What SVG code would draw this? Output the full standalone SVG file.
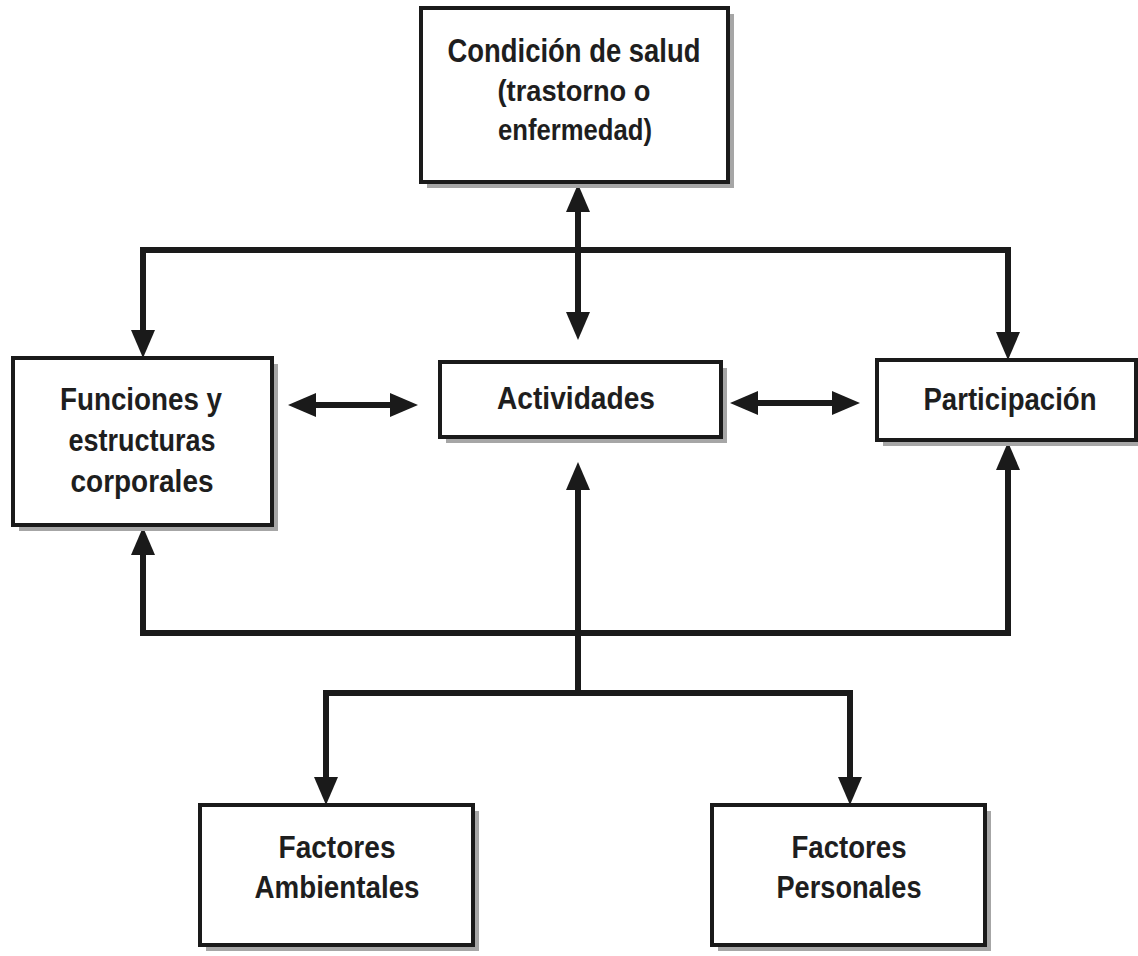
<svg xmlns="http://www.w3.org/2000/svg" width="1138" height="956" viewBox="0 0 1138 956">
<style>
.box{fill:#fff;stroke:#1a1a1a;stroke-width:4}
.sh{fill:#a6a6a6}
.t{font-family:"Liberation Sans",Arial,sans-serif;font-weight:bold;fill:#1e1e1e;text-anchor:middle}
.c{fill:none;stroke:#1a1a1a;stroke-width:6;stroke-linejoin:miter}
</style>
<defs>
<marker id="ah" markerUnits="userSpaceOnUse" viewBox="0 0 28 24" refX="20" refY="12" markerWidth="28" markerHeight="24" orient="auto-start-reverse">
<path d="M0,0 L28,12 L0,24 z" fill="#1a1a1a"/>
</marker>
</defs>
<rect width="1138" height="956" fill="#fff"/>
<g id="connectors">
<path class="c" d="M578,192 V332" marker-start="url(#ah)" marker-end="url(#ah)"/>
<path class="c" d="M143,350 V250 H1008 V352" marker-start="url(#ah)" marker-end="url(#ah)"/>
<path class="c" d="M296,405 H410" marker-start="url(#ah)" marker-end="url(#ah)"/>
<path class="c" d="M738,403 H852" marker-start="url(#ah)" marker-end="url(#ah)"/>
<path class="c" d="M143,535 V633 H1008 V450" marker-start="url(#ah)" marker-end="url(#ah)"/>
<path class="c" d="M578,693 V470" marker-end="url(#ah)"/>
<path class="c" d="M326,797 V693 H850 V797" marker-start="url(#ah)" marker-end="url(#ah)"/>
</g>
<g id="condicion">
<rect class="sh" x="427" y="14" width="307" height="174"/>
<rect class="box" x="421" y="8" width="307" height="174"/>
<text class="t" x="574" y="62" font-size="34" textLength="253" lengthAdjust="spacingAndGlyphs">Condición de salud</text>
<text class="t" x="574" y="101" font-size="29" textLength="153" lengthAdjust="spacingAndGlyphs">(trastorno o</text>
<text class="t" x="575" y="140" font-size="29" textLength="154" lengthAdjust="spacingAndGlyphs">enfermedad)</text>
</g>
<g id="funciones">
<rect class="sh" x="19" y="364" width="259" height="167"/>
<rect class="box" x="13" y="358" width="259" height="167"/>
<text class="t" x="141" y="410" font-size="32" textLength="162" lengthAdjust="spacingAndGlyphs">Funciones y</text>
<text class="t" x="142" y="451" font-size="32" textLength="147" lengthAdjust="spacingAndGlyphs">estructuras</text>
<text class="t" x="142" y="492" font-size="32" textLength="143" lengthAdjust="spacingAndGlyphs">corporales</text>
</g>
<g id="actividades">
<rect class="sh" x="446" y="368" width="281" height="75"/>
<rect class="box" x="440" y="362" width="281" height="75"/>
<text class="t" x="576" y="409" font-size="32" textLength="158" lengthAdjust="spacingAndGlyphs">Actividades</text>
</g>
<g id="participacion">
<rect class="sh" x="883" y="366" width="260" height="80"/>
<rect class="box" x="877" y="360" width="259" height="80"/>
<text class="t" x="1010" y="410" font-size="32" textLength="173" lengthAdjust="spacingAndGlyphs">Participación</text>
</g>
<g id="ambientales">
<rect class="sh" x="206" y="811" width="273" height="140"/>
<rect class="box" x="200" y="805" width="273" height="140"/>
<text class="t" x="337" y="858" font-size="32" textLength="117" lengthAdjust="spacingAndGlyphs">Factores</text>
<text class="t" x="337" y="898" font-size="32" textLength="165" lengthAdjust="spacingAndGlyphs">Ambientales</text>
</g>
<g id="personales">
<rect class="sh" x="718" y="811" width="273" height="140"/>
<rect class="box" x="712" y="805" width="273" height="140"/>
<text class="t" x="849" y="858" font-size="32" textLength="115" lengthAdjust="spacingAndGlyphs">Factores</text>
<text class="t" x="849" y="898" font-size="32" textLength="145" lengthAdjust="spacingAndGlyphs">Personales</text>
</g>
</svg>
